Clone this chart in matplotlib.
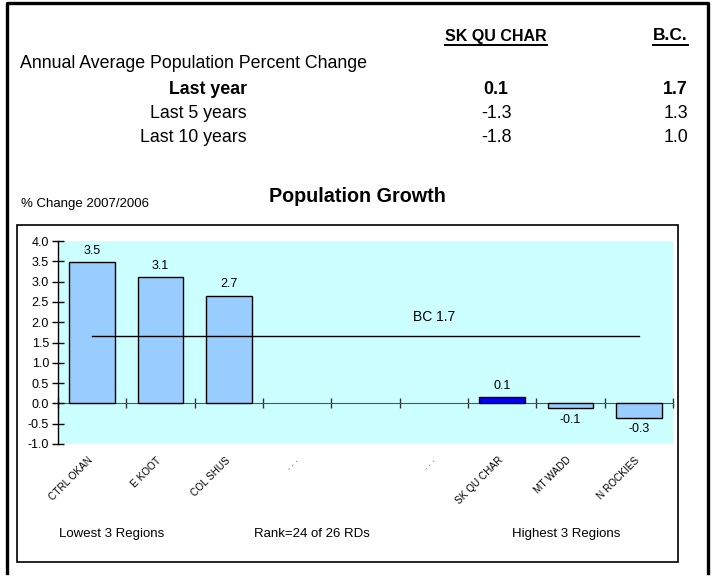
import matplotlib.pyplot as plt
from matplotlib.lines import Line2D
from matplotlib.patches import Rectangle
import numpy as np

plt.rcParams['font.family'] = ['Liberation Sans', 'DejaVu Sans']

# top table
row_labels = ["Last year", "Last 5 years", "Last 10 years"]
region_vals = ["0.1", "-1.3", "-1.8"]
bc_vals = ["1.7", "1.3", "1.0"]

# chart data
regions = ["CTRL OKAN", "E KOOT", "COL SHUS", ". . .", "", ". . .",
           "SK QU CHAR", "MT WADD", "N ROCKIES"]
growth = [3.48, 3.11, 2.65, None, None, None, 0.15, -0.12, -0.35]
growth_labels = ["3.5", "3.1", "2.7", "", "", "", "0.1", "-0.1", "-0.3"]
bc_growth = 1.66
highlight = "SK QU CHAR"

W, H = 713, 577
fig = plt.figure(figsize=(W / 100, H / 100), dpi=100)


def fx(px):
    return px / W


def fy(py):
    return 1 - py / H


# outer border (open at bottom)
fig.add_artist(Line2D([fx(6.5), fx(6.5), fx(708), fx(708)],
                      [fy(573), fy(2.5), fy(2.5), fy(573)],
                      color="black", lw=2.4, transform=fig.transFigure))

# table
fs = 12.8
heads = [
    fig.text(fx(496), fy(36), "SK QU CHAR", ha="center", va="center",
             fontsize=11.5, fontweight="bold"),
    fig.text(fx(688), fy(36), "B.C.", ha="right", va="center",
             fontsize=12.5, fontweight="bold"),
]
fig.text(fx(20), fy(63), "Annual Average Population Percent Change",
         ha="left", va="center", fontsize=fs)
for i, (lab, rv, bv) in enumerate(zip(row_labels, region_vals, bc_vals)):
    y = fy(89 + 24 * i)
    w = "bold" if i == 0 else "normal"
    fig.text(fx(247), y, lab, ha="right", va="center", fontsize=fs,
             fontweight=w)
    fig.text(fx(496), y, rv, ha="center", va="center", fontsize=fs,
             fontweight=w)
    fig.text(fx(688), y, bv, ha="right", va="center", fontsize=fs,
             fontweight=w)

# underline the headers
fig.canvas.draw()
rend = fig.canvas.get_renderer()
for t in heads:
    bb = t.get_window_extent(rend)
    fig.add_artist(Line2D([bb.x0 / W, bb.x1 / W], [fy(45), fy(45)],
                          color="black", lw=1.4, transform=fig.transFigure))

# chart titles
fig.text(fx(357), fy(196), "Population Growth", ha="center", va="center",
         fontsize=14.2, fontweight="bold")
fig.text(fx(21), fy(204), "% Change 2007/2006", ha="left", va="center",
         fontsize=9.5)

# chart frame
fig.add_artist(Rectangle((fx(17), fy(562)), fx(678 - 17), (562 - 225) / H,
                         fill=False, edgecolor="black", lw=1.2,
                         transform=fig.transFigure))

ax = fig.add_axes([fx(58), fy(444), fx(673 - 58), (444 - 241) / H])
ax.set_facecolor("#CCFFFF")
ax.set_xlim(0, len(regions))
ax.set_ylim(-1, 4)

x = np.arange(len(regions)) + 0.5
for xi, name, v, lab in zip(x, regions, growth, growth_labels):
    if v is None:
        continue
    col = "#0000FF" if name == highlight else "#99CCFF"
    ax.bar(xi, v, width=0.67, color=col, edgecolor="black", lw=1, zorder=3)
    if v >= 0:
        ax.annotate(lab, (xi, v), xytext=(0, 4), textcoords="offset points",
                    ha="center", va="bottom", fontsize=9)
    else:
        ax.annotate(lab, (xi, v), xytext=(0, -4), textcoords="offset points",
                    ha="center", va="top", fontsize=9)

ax.plot([x[0], x[-1]], [bc_growth, bc_growth], color="black", lw=1, zorder=4)
ax.annotate("BC %.1f" % 1.7, (5.5, bc_growth), xytext=(0, 9),
            textcoords="offset points", ha="center", va="bottom", fontsize=10)

for s in ["top", "right", "bottom"]:
    ax.spines[s].set_visible(False)
ax.spines["left"].set_linewidth(1)
ax.set_yticks(np.arange(-1, 4.01, 0.5))
ax.set_yticklabels(["%.1f" % t for t in np.arange(-1, 4.01, 0.5)])
ax.tick_params(axis="y", direction="inout", length=9, width=1, labelsize=9,
               pad=2)

ax.set_xticks(x - 0.06)
ax.set_xticklabels(regions, rotation=45, ha="right", rotation_mode="anchor",
                   fontsize=7.2)
ax.tick_params(axis="x", length=0, pad=8)

# zero axis with category ticks
zero = ax.secondary_xaxis(0.2)
zero.set_xticks(np.arange(0, len(regions) + 1))
zero.set_xticklabels([])
zero.spines["bottom"].set_color("#555555")
zero.tick_params(direction="inout", length=7, width=1, color="#333333")

fig.text(fx(112), fy(534), "Lowest 3 Regions", ha="center", va="center",
         fontsize=9.5)
fig.text(fx(312), fy(534), "Rank=24 of 26 RDs", ha="center", va="center",
         fontsize=9.5)
fig.text(fx(566), fy(534), "Highest 3 Regions", ha="center", va="center",
         fontsize=9.5)

fig.savefig("out.png", dpi=100)
